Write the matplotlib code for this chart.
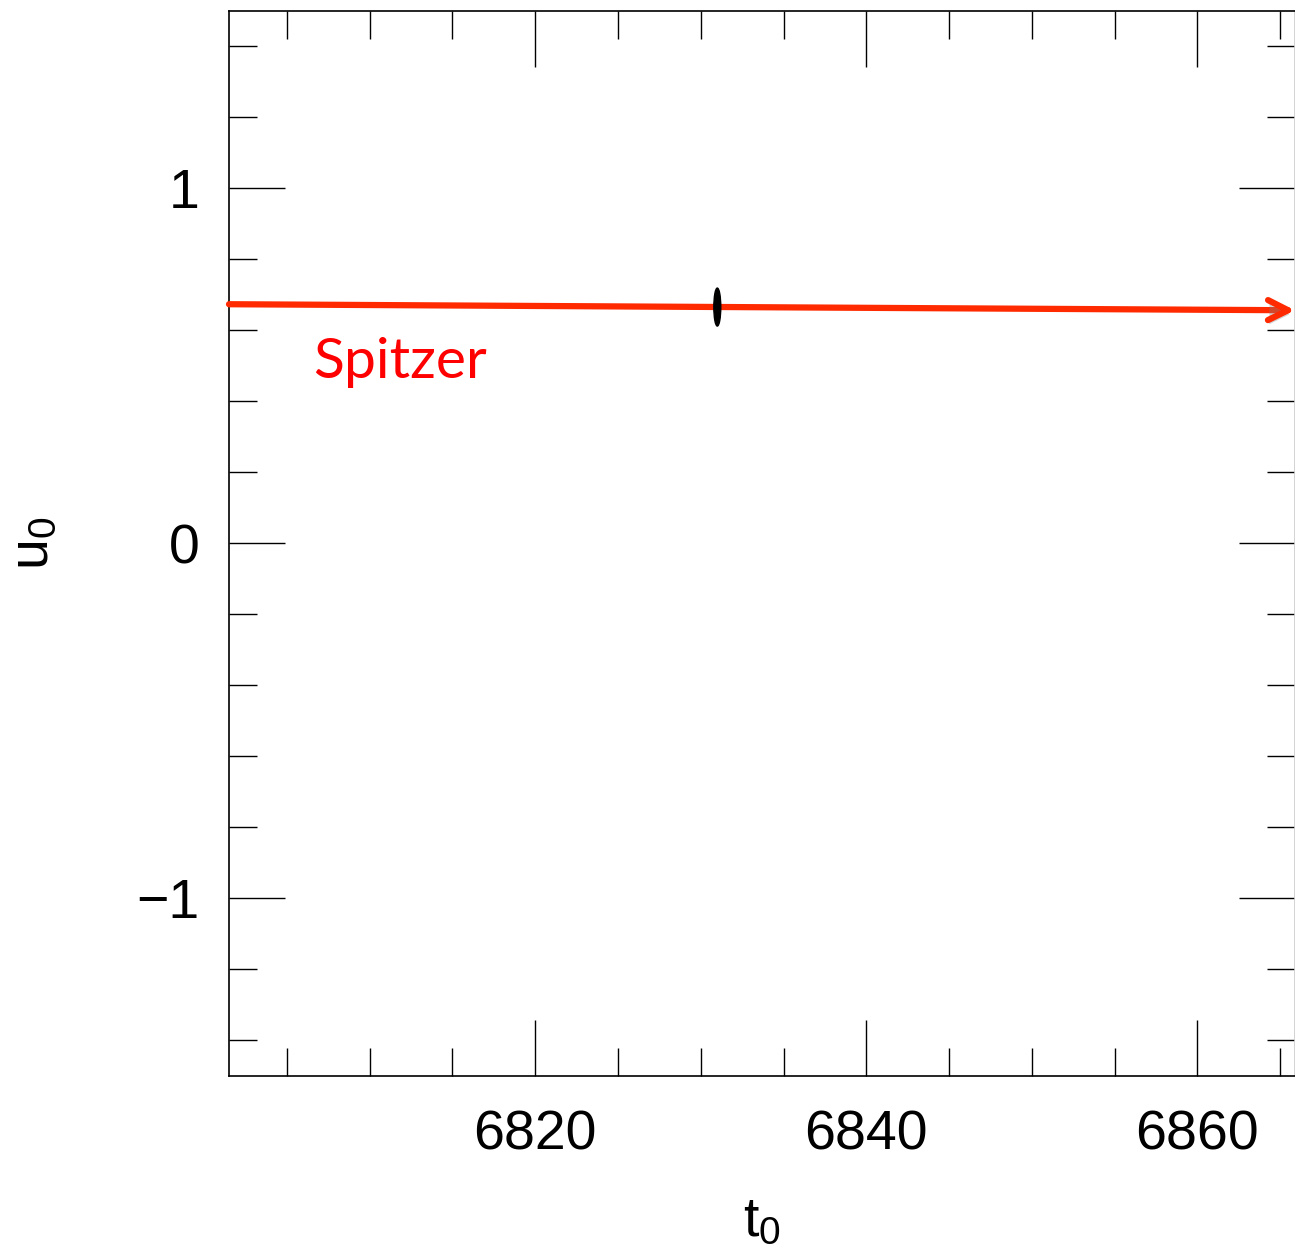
import matplotlib
matplotlib.use("Agg")
import matplotlib.pyplot as plt
from matplotlib.patches import Ellipse
import matplotlib.patheffects as pe

# data
arrow_t = [6801.5, 6865.9]      # start / end of the Spitzer arrow (t0)
arrow_u = [0.673, 0.656]        # start / end of the Spitzer arrow (u0)
ground_t0 = 6831.0              # black error ellipse centre
ground_u0 = 0.665
ground_dt = 0.42                # ellipse full width / height
ground_du = 0.107
xticks = [6820, 6840, 6860]
yticks = [-1, 0, 1]

plt.rcParams['font.family'] = ['Liberation Sans', 'DejaVu Sans']
plt.rcParams['mathtext.default'] = 'regular'

fig = plt.figure(figsize=(12.95, 12.53), dpi=100)
ax = fig.add_axes([229/1295, 1 - 1076/1253, 1 - 229/1295, (1076 - 10.5)/1253])

ax.set_xlim(6801.5, 6865.9)
ax.set_ylim(-1.5, 1.5)

ax.set_xticks(xticks)
ax.set_yticks(yticks)
ax.set_xticks(range(6805, 6866, 5), minor=True)
ax.set_yticks([v / 10 for v in range(-14, 15, 2)], minor=True)

ax.tick_params(which='both', direction='in', top=True, right=True,
               labelsize=40, width=1.0)
ax.tick_params(which='major', length=40)
ax.tick_params(which='minor', length=20)
ax.tick_params(axis='y', pad=21)
ax.tick_params(axis='x', pad=24)

for s in ax.spines.values():
    s.set_linewidth(1.2)
ax.spines['right'].set_color('#cccccc')

ax.set_xlabel('t$_0$', fontsize=40, labelpad=25)
ax.set_ylabel('u$_0$', fontsize=40)
ax.yaxis.set_label_coords(-0.158, 0.5)

# Spitzer arrow with a soft shadow
ax.annotate('', xy=(arrow_t[1], arrow_u[1]), xytext=(arrow_t[0], arrow_u[0]),
            arrowprops=dict(arrowstyle='->', color='#ff2a00', lw=4.5,
                            mutation_scale=36, shrinkA=0, shrinkB=0,
                            path_effects=[pe.SimplePatchShadow(offset=(1, -3), shadow_rgbFace='gray', alpha=0.35),
                                          pe.Normal()]),
            annotation_clip=False)

ell = Ellipse((ground_t0, ground_u0), ground_dt, ground_du, color='black', zorder=5)
ax.add_patch(ell)

ax.text(6806.6, 0.465, 'Spitzer', color='red', fontsize=41,
        family=['Lato', 'DejaVu Sans'])

fig.savefig('out.png', dpi=100)
